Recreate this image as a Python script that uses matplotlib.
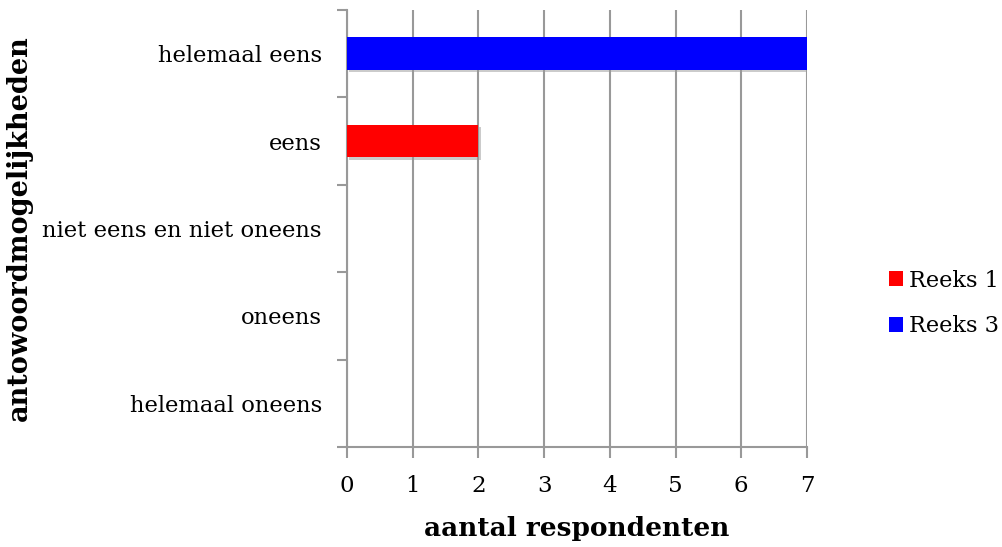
import matplotlib
matplotlib.use("Agg")
import matplotlib.pyplot as plt
import matplotlib.patheffects as pe
from matplotlib.patches import Patch

categories = ["helemaal oneens", "oneens", "niet eens en niet oneens", "eens", "helemaal eens"]
reeks1 = [0, 0, 0, 2, 0]
reeks3 = [0, 0, 0, 0, 7]
series_names = ["Reeks 1", "Reeks 3"]
series_colors = ["#ff0000", "#0000ff"]
x_ticks = [0, 1, 2, 3, 4, 5, 6, 7]

plt.rcParams["font.family"] = ["DejaVu Serif", "Liberation Serif"]

fig = plt.figure(figsize=(10.02, 5.47), dpi=100)
ax = fig.add_axes([0.3463, 0.1828, 0.8054 - 0.3463, 0.9817 - 0.1828])

pos = list(range(len(categories)))
shadow = [pe.SimplePatchShadow(offset=(1.5, -1.5), shadow_rgbFace="#999999", alpha=0.5), pe.Normal()]
for vals, color in zip([reeks1, reeks3], series_colors):
    bars = ax.barh(pos, vals, height=0.375, color=color, zorder=3)
    for b in bars:
        if b.get_width() > 0:
            b.set_path_effects(shadow)

ax.set_xlim(0, 7)
ax.set_ylim(-0.5, len(categories) - 0.5)
ax.set_xticks(x_ticks)
ax.set_xticklabels([str(t) for t in x_ticks], fontsize=16.5)
ax.set_yticks(pos)
ax.set_yticklabels(categories, fontsize=16.3)
ax.tick_params(axis="y", length=0, pad=18)
ax.set_yticks([p - 0.5 for p in pos] + [len(categories) - 0.5], minor=True)
ax.tick_params(axis="y", which="minor", length=7, width=1.5, color="#999999")
ax.tick_params(axis="x", length=8, width=1.5, color="#999999", pad=12)

ax.grid(axis="x", color="#999999", linewidth=1.5, zorder=0)
for side in ["top", "right"]:
    ax.spines[side].set_visible(False)
for side in ["left", "bottom"]:
    ax.spines[side].set_color("#999999")
    ax.spines[side].set_linewidth(1.5)

ax.set_xlabel("aantal respondenten", fontsize=19, fontweight="bold", labelpad=14)
ax.set_ylabel("antowoordmogelijkheden", fontsize=19.5, fontweight="bold")
ax.yaxis.set_label_coords(-0.683, 0.5)

handles = [Patch(facecolor=c, edgecolor="none") for c in series_colors]
fig.legend(handles, series_names, loc="center left", bbox_to_anchor=(0.887, 0.445),
           frameon=False, fontsize=16.2, handlelength=0.65, handleheight=0.65,
           handletextpad=0.25, labelspacing=1.05, borderpad=0, borderaxespad=0)

fig.savefig("out.png", dpi=100, facecolor="white")
